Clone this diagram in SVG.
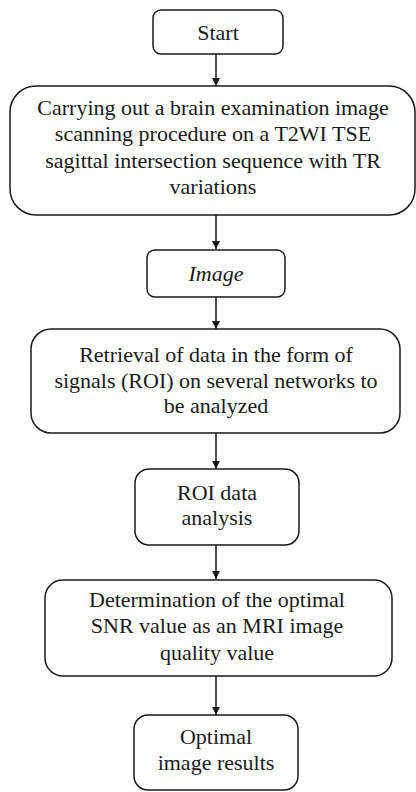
<svg xmlns="http://www.w3.org/2000/svg" width="416" height="792" viewBox="0 0 416 792">
<defs>
<style>
.box{fill:#fff;stroke:#1a1a1a;stroke-width:1.5}
text{font-family:'Liberation Serif','Tinos','DejaVu Serif','Noto Serif',serif;font-size:22px;fill:#1a1a1a;text-anchor:middle}
.c{stroke:#1a1a1a;stroke-width:1.5;fill:none}
</style>
<marker id="ah" viewBox="0 0 10 10" refX="10" refY="5" markerWidth="8" markerHeight="8" markerUnits="userSpaceOnUse" orient="auto">
<path d="M0,0 L10,5 L0,10 z" fill="#1a1a1a"/>
</marker>
</defs>
<rect width="416" height="792" fill="#fff"/>
<g id="connectors">
<line class="c" x1="216" y1="54" x2="216" y2="86" marker-end="url(#ah)"/>
<line class="c" x1="216" y1="215" x2="216" y2="249" marker-end="url(#ah)"/>
<line class="c" x1="216" y1="297" x2="216" y2="329" marker-end="url(#ah)"/>
<line class="c" x1="216" y1="433" x2="216" y2="469" marker-end="url(#ah)"/>
<line class="c" x1="216" y1="545" x2="216" y2="579" marker-end="url(#ah)"/>
<line class="c" x1="216" y1="676" x2="216" y2="715" marker-end="url(#ah)"/>
</g>
<g id="start">
<rect class="box" x="153" y="10" width="130" height="44" rx="8"/>
<text x="218" y="40">Start</text>
</g>
<g id="scan">
<rect class="box" x="10" y="86" width="405" height="129" rx="26"/>
<text x="213" y="115">Carrying out a brain examination image</text>
<text x="213" y="141">scanning procedure on a T2WI TSE</text>
<text x="213" y="168">sagittal intersection sequence with TR</text>
<text x="213" y="194">variations</text>
</g>
<g id="image">
<rect class="box" x="147" y="250" width="138" height="47" rx="8"/>
<text x="216" y="281" font-style="italic">Image</text>
</g>
<g id="retrieval">
<rect class="box" x="31" y="329" width="369" height="104" rx="20"/>
<text x="216" y="362">Retrieval of data in the form of</text>
<text x="216" y="388">signals (ROI) on several networks to</text>
<text x="216" y="413">be analyzed</text>
</g>
<g id="roi">
<rect class="box" x="135" y="469" width="164" height="76" rx="14"/>
<text x="217" y="500">ROI data</text>
<text x="217" y="525">analysis</text>
</g>
<g id="snr">
<rect class="box" x="45" y="580" width="347" height="96" rx="18"/>
<text x="217" y="607">Determination of the optimal</text>
<text x="217" y="633">SNR value as an MRI image</text>
<text x="217" y="660">quality value</text>
</g>
<g id="result">
<rect class="box" x="134" y="715" width="164" height="75" rx="14"/>
<text x="216" y="744">Optimal</text>
<text x="216" y="770">image results</text>
</g>
</svg>
